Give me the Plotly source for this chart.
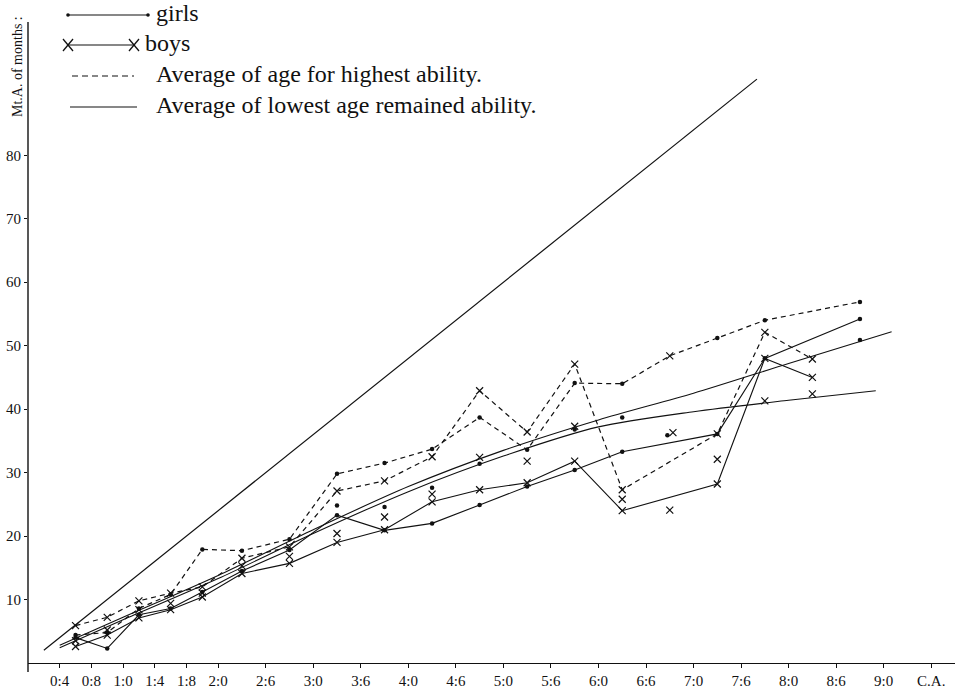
import plotly.graph_objects as go

# Chronological age (months) at the midpoint of each age group
ages = [6, 10, 14, 18, 22, 27, 33, 39, 45, 51, 57, 63, 69, 75, 81, 87, 93, 99, 105]

# Mental age (months): average of age for highest ability
girls_high = [4.4, 4.8, 8.6, 10.8, 17.9, 17.7, 19.5, 29.8, 31.5, 33.7, 38.7, 33.6,
              44.1, 44.0, 48.4, 51.2, 54.0, None, 56.9]
boys_high = [5.9, 7.2, 9.8, 11.0, 12.0, 16.5, 18.3, 27.1, 28.7, 32.5, 42.9, 36.4,
             47.1, 27.3, None, 36.1, 52.1, 47.9, None]

# Mental age (months): average of lowest age remained ability
girls_low = [4.0, 2.3, 7.6, 8.6, 11.2, 14.5, 17.8, 23.3, 20.9, 22.0, 24.9, 27.8,
             30.4, 33.3, None, 36.1, 48.0, None, 54.2]
boys_low = [2.6, 4.4, 7.1, 8.4, 10.4, 14.1, 15.7, 19.0, 21.0, 25.4, 27.3, 28.4,
            31.8, 24.0, None, 28.2, 48.0, 45.0, None]

# Single observations not joined by a line
girls_pts_age = [39, 45, 51, 57, 69, 75, 80.7, 105]
girls_pts_val = [24.8, 24.6, 27.6, 31.4, 36.8, 38.7, 35.9, 50.9]
boys_pts_age = [6, 10, 14, 18, 22, 27, 33, 39, 45, 51, 57, 63, 69, 75, 81.4, 81, 87, 93, 99]
boys_pts_val = [3.5, 5.2, 8.4, 9.4, 11.0, 15.3, 16.8, 20.4, 23.0, 26.6, 32.4, 31.8,
                37.3, 25.8, 36.3, 24.1, 32.1, 41.3, 42.4]

# Smoothed trend curves
trend_a_age = [4, 12, 24, 36, 48, 60, 72, 84, 96, 109]
trend_a_val = [2.8, 7.2, 13.8, 21.0, 27.8, 33.5, 38.3, 42.5, 47.2, 52.2]
trend_b_age = [4, 12, 24, 36, 48, 60, 72, 84, 96, 107]
trend_b_val = [2.4, 6.8, 13.3, 20.4, 27.0, 32.6, 37.2, 39.6, 41.4, 42.9]

# Mental age equal to chronological age
diag_age = [2, 92]
diag_val = [2, 92]

# Axis ticks
x_tick_vals = [4, 8, 12, 16, 20, 24, 30, 36, 42, 48, 54, 60, 66, 72, 78, 84, 90, 96, 102, 108, 114]
x_tick_text = ["0:4", "0:8", "1:0", "1:4", "1:8", "2:0", "2:6", "3:0", "3:6", "4:0", "4:6",
               "5:0", "5:6", "6:0", "6:6", "7:0", "7:6", "8:0", "8:6", "9:0", "C.A."]
y_tick_vals = [10, 20, 30, 40, 50, 60, 70, 80]

FONT = "Liberation Serif"
INK = "#111111"
W, H = 958, 690
ML, MR, MT, MB = 28, 3, 0, 27
PW, PH = W - ML - MR, H - MT - MB

dot = dict(symbol="circle", size=4.5, color=INK, line=dict(width=0))
cross = dict(symbol="x-thin", size=7, line=dict(width=1.2, color=INK), color=INK)

# the girls' highest-ability point at 6:9 is printed with a cross instead of a dot
odd_cross = [a == 81 for a in ages]
gh_dot_age = [a for a, v, c in zip(ages, girls_high, odd_cross) if v is not None and not c]
gh_dot_val = [v for v, c in zip(girls_high, odd_cross) if v is not None and not c]
gh_cross_age = [a for a, c in zip(ages, odd_cross) if c]
gh_cross_val = [v for v, c in zip(girls_high, odd_cross) if c]

fig = go.Figure()

fig.add_trace(go.Scatter(x=diag_age, y=diag_val, mode="lines",
                         line=dict(color=INK, width=1.2)))
fig.add_trace(go.Scatter(x=trend_a_age, y=trend_a_val, mode="lines",
                         line=dict(color=INK, width=1.1, shape="spline", smoothing=0.8)))
fig.add_trace(go.Scatter(x=trend_b_age, y=trend_b_val, mode="lines",
                         line=dict(color=INK, width=1.1, shape="spline", smoothing=0.8)))

fig.add_trace(go.Scatter(x=ages, y=girls_high, mode="lines", connectgaps=True,
                         line=dict(color=INK, width=1.2, dash="5px,4px")))
fig.add_trace(go.Scatter(x=gh_dot_age, y=gh_dot_val, mode="markers", marker=dot))
fig.add_trace(go.Scatter(x=gh_cross_age, y=gh_cross_val, mode="markers", marker=cross))
fig.add_trace(go.Scatter(x=ages, y=boys_high, mode="lines+markers", connectgaps=True,
                         line=dict(color=INK, width=1.2, dash="5px,4px"), marker=cross))
fig.add_trace(go.Scatter(x=ages, y=girls_low, mode="lines+markers", connectgaps=True,
                         line=dict(color=INK, width=1.1), marker=dot))
fig.add_trace(go.Scatter(x=ages, y=boys_low, mode="lines+markers", connectgaps=True,
                         line=dict(color=INK, width=1.1), marker=cross))

fig.add_trace(go.Scatter(x=girls_pts_age, y=girls_pts_val, mode="markers", marker=dot))
fig.add_trace(go.Scatter(x=boys_pts_age, y=boys_pts_val, mode="markers", marker=cross))


def px(xp):
    return (xp - ML) / PW


def py(yp):
    return (H - MB - yp) / PH


shapes = []
# y axis line, running a little below the x axis
shapes.append(dict(type="line", xref="paper", yref="paper", x0=0, x1=0,
                   y0=py(672), y1=py(22), line=dict(color=INK, width=1.4)))

# key: girls
ry = 15
shapes.append(dict(type="line", xref="paper", yref="paper", x0=px(68), x1=px(148),
                   y0=py(ry), y1=py(ry), line=dict(color=INK, width=1.1)))
for cx in (68, 148):
    shapes.append(dict(type="circle", xref="paper", yref="paper",
                       x0=px(cx - 1.8), x1=px(cx + 1.8), y0=py(ry + 1.8), y1=py(ry - 1.8),
                       fillcolor=INK, line=dict(color=INK, width=0)))
# key: boys
ry = 45
shapes.append(dict(type="line", xref="paper", yref="paper", x0=px(68), x1=px(134),
                   y0=py(ry), y1=py(ry), line=dict(color=INK, width=1.1)))
for cx in (68, 134):
    for s in (1, -1):
        shapes.append(dict(type="line", xref="paper", yref="paper",
                           x0=px(cx - 5), x1=px(cx + 5), y0=py(ry - 6 * s), y1=py(ry + 6 * s),
                           line=dict(color=INK, width=1.3)))
# key: highest ability (dashed)
ry = 76
shapes.append(dict(type="line", xref="paper", yref="paper", x0=px(72), x1=px(134),
                   y0=py(ry), y1=py(ry), line=dict(color=INK, width=1.1, dash="6px,4px")))
# key: lowest remained ability (solid)
ry = 107
shapes.append(dict(type="line", xref="paper", yref="paper", x0=px(70), x1=px(137),
                   y0=py(ry), y1=py(ry), line=dict(color=INK, width=1.1)))

key_font = dict(family=FONT, size=24, color=INK)
annotations = [
    dict(text="girls", x=px(154), y=py(13), xref="paper", yref="paper",
         xanchor="left", yanchor="middle", showarrow=False, font=key_font),
    dict(text="boys", x=px(143), y=py(43), xref="paper", yref="paper",
         xanchor="left", yanchor="middle", showarrow=False, font=key_font),
    dict(text="Average of age for highest ability.", x=px(154), y=py(74), xref="paper",
         yref="paper", xanchor="left", yanchor="middle", showarrow=False, font=key_font),
    dict(text="Average of lowest age remained ability.", x=px(154), y=py(105), xref="paper",
         yref="paper", xanchor="left", yanchor="middle", showarrow=False, font=key_font),
    dict(text="Mt.A. of months :", x=px(18), y=py(67), xref="paper", yref="paper",
         xanchor="center", yanchor="middle", textangle=-90, showarrow=False,
         font=dict(family=FONT, size=14, color=INK)),
]

fig.update_layout(
    width=W, height=H,
    margin=dict(l=ML, r=MR, t=MT, b=MB),
    paper_bgcolor="white", plot_bgcolor="white",
    showlegend=False,
    font=dict(family=FONT, color=INK),
    shapes=shapes,
    annotations=annotations,
    xaxis=dict(range=[0, 117], tickvals=x_tick_vals, ticktext=x_tick_text,
               showgrid=False, zeroline=False, showline=True, linecolor=INK, linewidth=1.4,
               ticks="outside", ticklen=4, tickcolor=INK, tickwidth=1,
               tickfont=dict(family=FONT, size=15, color=INK)),
    yaxis=dict(range=[0, PH / ((H - MB - 22) / 101)], tickvals=y_tick_vals,
               showgrid=False, zeroline=False, showline=False,
               ticks="outside", ticklen=3, tickcolor=INK, tickwidth=1,
               tickfont=dict(family=FONT, size=15, color=INK)),
)

fig.write_html("out.html")
